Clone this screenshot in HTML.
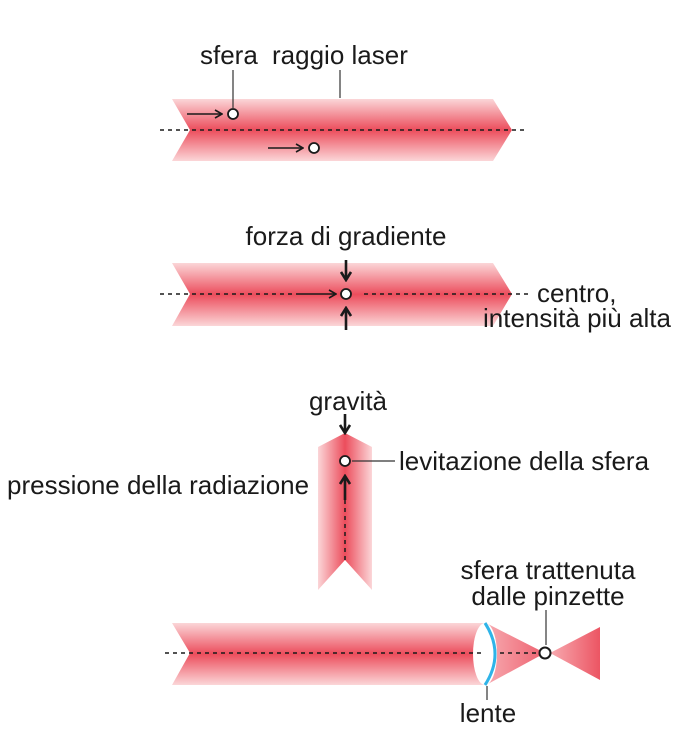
<!DOCTYPE html>
<html><head><meta charset="utf-8"><style>
html,body{margin:0;padding:0;background:#fff;}
svg{display:block;}
text{font-family:"Liberation Sans",Arial,sans-serif;font-size:26px;fill:#1a1a1a;}
</style></head><body>
<svg width="680" height="739" viewBox="0 0 680 739" xmlns="http://www.w3.org/2000/svg">
<defs>
<linearGradient id="gv" x1="0" y1="0" x2="0" y2="1">
<stop offset="0" stop-color="#fbd6d8"/><stop offset="0.5" stop-color="#ec4d5c"/><stop offset="1" stop-color="#fbd6d8"/>
</linearGradient>
<linearGradient id="gh" x1="0" y1="0" x2="1" y2="0">
<stop offset="0" stop-color="#fbd6d8"/><stop offset="0.5" stop-color="#ec4d5c"/><stop offset="1" stop-color="#fbd6d8"/>
</linearGradient>
<linearGradient id="gc" x1="0" y1="0" x2="1" y2="0">
<stop offset="0" stop-color="#f7aab0"/><stop offset="1" stop-color="#ee6270"/>
</linearGradient>
<linearGradient id="gd" x1="0" y1="0" x2="1" y2="0">
<stop offset="0" stop-color="#f7aab0"/><stop offset="1" stop-color="#ec5563"/>
</linearGradient>
<marker id="ah" markerWidth="10" markerHeight="10" refX="9" refY="5" orient="auto" markerUnits="userSpaceOnUse">
<path d="M2,1 L9,5 L2,9" fill="none" stroke="#1a1a1a" stroke-width="1.6"/>
</marker>
<marker id="ab" markerWidth="12" markerHeight="12" refX="10" refY="6" orient="auto" markerUnits="userSpaceOnUse">
<path d="M2,1 L10,6 L2,11" fill="none" stroke="#1a1a1a" stroke-width="2.6"/>
</marker>
</defs>

<path d="M172,99 L493,99 L512,130 L493,161 L172,161 L190,130 Z" fill="url(#gv)"/>
<line x1="160" y1="130" x2="528" y2="130" stroke="#1a1a1a" stroke-width="1.5" stroke-dasharray="4,4"/>
<line x1="233" y1="70" x2="233" y2="108" stroke="#333" stroke-width="1.2"/>
<line x1="340" y1="70" x2="340" y2="98" stroke="#333" stroke-width="1.2"/>
<text x="200" y="64">sfera</text>
<text x="272" y="64">raggio laser</text>
<line x1="187" y1="114" x2="222" y2="114" stroke="#1a1a1a" stroke-width="1.6" marker-end="url(#ah)"/>
<circle cx="233" cy="114" r="5" fill="#fff" stroke="#1a1a1a" stroke-width="1.8"/>
<line x1="268" y1="148" x2="303" y2="148" stroke="#1a1a1a" stroke-width="1.6" marker-end="url(#ah)"/>
<circle cx="314" cy="148" r="5" fill="#fff" stroke="#1a1a1a" stroke-width="1.8"/>

<path d="M172,263 L493,263 L512,294 L493,326 L172,326 L190,294 Z" fill="url(#gv)"/>
<line x1="160" y1="294" x2="300" y2="294" stroke="#1a1a1a" stroke-width="1.5" stroke-dasharray="4,4"/>
<line x1="364" y1="294" x2="528" y2="294" stroke="#1a1a1a" stroke-width="1.5" stroke-dasharray="4,4"/>
<text x="346" y="245" text-anchor="middle">forza di gradiente</text>
<line x1="300" y1="294" x2="336" y2="294" stroke="#1a1a1a" stroke-width="1.6" marker-end="url(#ah)"/>
<line x1="346" y1="260" x2="346" y2="280" stroke="#1a1a1a" stroke-width="2.6" marker-end="url(#ab)"/>
<line x1="346" y1="330" x2="346" y2="308" stroke="#1a1a1a" stroke-width="2.6" marker-end="url(#ab)"/>
<circle cx="346" cy="294" r="5" fill="#fff" stroke="#1a1a1a" stroke-width="1.8"/>
<text x="537" y="302">centro,</text>
<text x="483" y="327">intensità più alta</text>

<path d="M318,447 L345,433 L372,447 L372,590 L345,560 L318,590 Z" fill="url(#gh)"/>
<line x1="345" y1="500" x2="345" y2="560" stroke="#1a1a1a" stroke-width="1.5" stroke-dasharray="4,4"/>
<text x="348" y="410" text-anchor="middle">gravità</text>
<line x1="345" y1="414" x2="345" y2="433" stroke="#1a1a1a" stroke-width="2.6" marker-end="url(#ab)"/>
<line x1="345" y1="500" x2="345" y2="476" stroke="#1a1a1a" stroke-width="2.6" marker-end="url(#ab)"/>
<circle cx="345" cy="461" r="5" fill="#fff" stroke="#1a1a1a" stroke-width="1.8"/>
<line x1="352" y1="461" x2="395" y2="461" stroke="#333" stroke-width="1.2"/>
<text x="399" y="470">levitazione della sfera</text>
<text x="7" y="494">pressione della radiazione</text>

<path d="M172,623 L486,623 L486,685 L172,685 L190,653 Z" fill="url(#gv)"/>
<path d="M486,623 L545,653 L486,685 Z" fill="url(#gc)"/>
<path d="M550,653 L600,627 L600,680 Z" fill="url(#gd)"/>
<ellipse cx="485" cy="654" rx="12" ry="31" fill="#fff"/>
<path d="M485,623 Q505,654 485,685" fill="none" stroke="#2fb4e8" stroke-width="3"/>
<line x1="165" y1="653" x2="482" y2="653" stroke="#1a1a1a" stroke-width="1.5" stroke-dasharray="4,4"/>
<line x1="500" y1="653" x2="538" y2="653" stroke="#1a1a1a" stroke-width="1.5" stroke-dasharray="4,4"/>
<circle cx="545" cy="653" r="5.5" fill="#fff" stroke="#1a1a1a" stroke-width="2"/>
<line x1="546" y1="610" x2="546" y2="645" stroke="#333" stroke-width="1.2"/>
<text x="548" y="579" text-anchor="middle">sfera trattenuta</text>
<text x="548" y="605" text-anchor="middle">dalle pinzette</text>
<line x1="487" y1="686" x2="487" y2="700" stroke="#333" stroke-width="1.2"/>
<text x="488" y="722" text-anchor="middle">lente</text>
</svg>
</body></html>
